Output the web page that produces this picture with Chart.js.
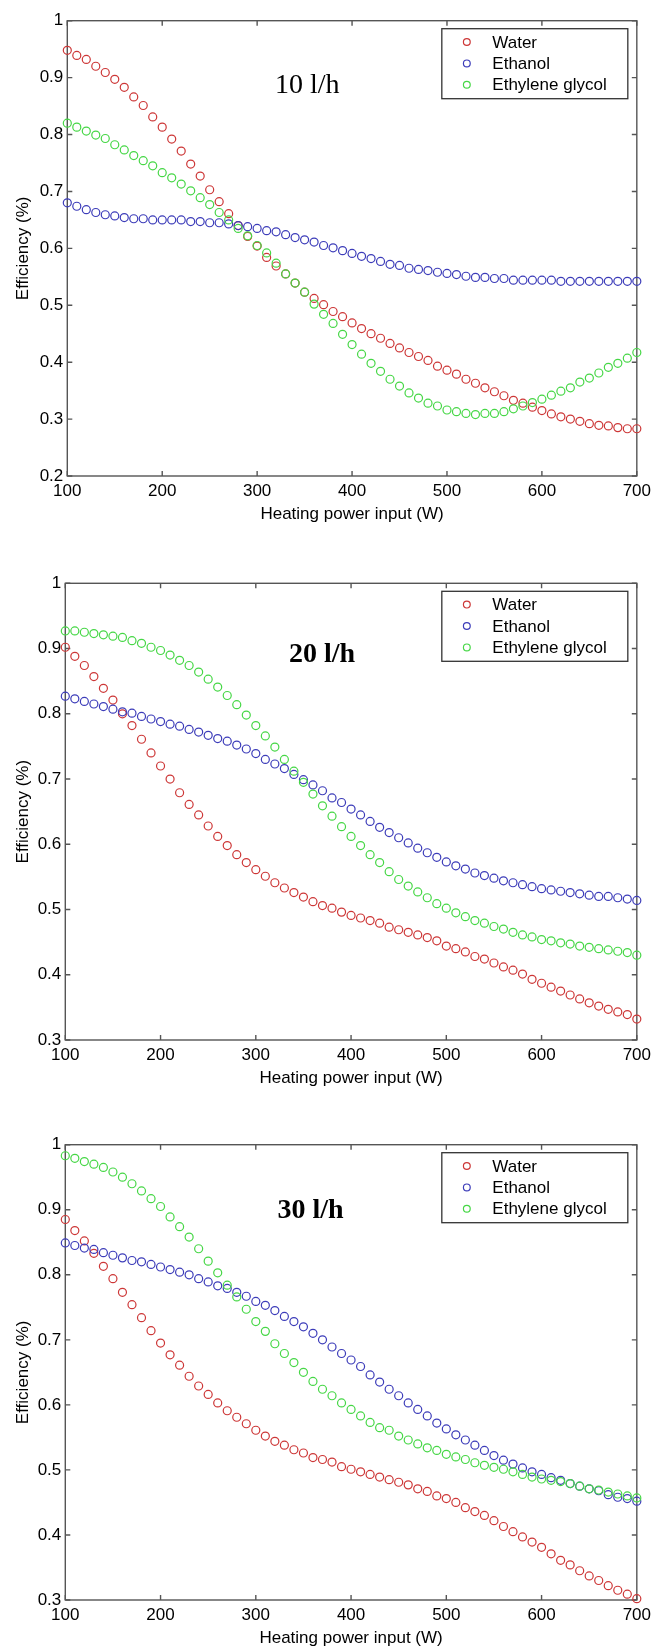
<!DOCTYPE html>
<html>
<head>
<meta charset="utf-8">
<script src="https://cdn.jsdelivr.net/npm/chart.js@4"></script>
<style>
  html, body { margin: 0; padding: 0; background: #fff; overflow: hidden; }
  .box { position: absolute; left: 0; width: 656px; }
</style>
</head>
<body>
<div class="box" style="top:0;height:540px"><canvas id="c1"></canvas></div>
<div class="box" style="top:540px;height:560px"><canvas id="c2"></canvas></div>
<div class="box" style="top:1100px;height:549px"><canvas id="c3"></canvas></div>
<script>
// heating power input (W)
const power = [100, 110, 120, 130, 140, 150, 160, 170, 180, 190,
  200, 210, 220, 230, 240, 250, 260, 270, 280, 290,
  300, 310, 320, 330, 340, 350, 360, 370, 380, 390,
  400, 410, 420, 430, 440, 450, 460, 470, 480, 490,
  500, 510, 520, 530, 540, 550, 560, 570, 580, 590,
  600, 610, 620, 630, 640, 650, 660, 670, 680, 690, 700];

const seriesNames = ['Water', 'Ethanol', 'Ethylene glycol'];
const flowLabels = ['10 l/h', '20 l/h', '30 l/h'];
const yMins = [0.2, 0.3, 0.3];

// 10 l/h
const water10 = [0.948, 0.939, 0.932, 0.920, 0.909, 0.897, 0.883, 0.866, 0.851, 0.831,
  0.813, 0.792, 0.771, 0.748, 0.727, 0.703, 0.682, 0.661, 0.640, 0.621,
  0.604, 0.584, 0.569, 0.555, 0.539, 0.523, 0.512, 0.501, 0.489, 0.480,
  0.469, 0.459, 0.450, 0.442, 0.433, 0.425, 0.417, 0.410, 0.403, 0.393,
  0.386, 0.379, 0.370, 0.363, 0.355, 0.348, 0.341, 0.333, 0.328, 0.321,
  0.315, 0.309, 0.304, 0.300, 0.296, 0.292, 0.289, 0.288, 0.285, 0.283, 0.283];
const ethanol10 = [0.680, 0.674, 0.668, 0.663, 0.659, 0.657, 0.654, 0.652, 0.652, 0.650,
  0.650, 0.650, 0.650, 0.647, 0.647, 0.645, 0.645, 0.643, 0.640, 0.638,
  0.635, 0.631, 0.629, 0.624, 0.619, 0.615, 0.611, 0.605, 0.601, 0.596,
  0.591, 0.586, 0.582, 0.577, 0.572, 0.570, 0.565, 0.563, 0.561, 0.558,
  0.556, 0.554, 0.551, 0.549, 0.549, 0.547, 0.547, 0.544, 0.544, 0.544,
  0.544, 0.544, 0.542, 0.542, 0.542, 0.542, 0.542, 0.542, 0.542, 0.542, 0.542];
const glycol10 = [0.820, 0.813, 0.806, 0.799, 0.793, 0.782, 0.773, 0.763, 0.754, 0.745,
  0.733, 0.724, 0.713, 0.701, 0.689, 0.677, 0.663, 0.650, 0.635, 0.622,
  0.605, 0.592, 0.574, 0.555, 0.539, 0.523, 0.502, 0.484, 0.468, 0.449,
  0.431, 0.414, 0.398, 0.384, 0.370, 0.358, 0.346, 0.337, 0.328, 0.323,
  0.316, 0.313, 0.310, 0.308, 0.310, 0.310, 0.313, 0.318, 0.323, 0.329,
  0.335, 0.342, 0.349, 0.355, 0.365, 0.372, 0.381, 0.391, 0.398, 0.407, 0.417];

// 20 l/h
const water20 = [0.902, 0.888, 0.874, 0.857, 0.839, 0.821, 0.800, 0.782, 0.761, 0.740,
  0.720, 0.700, 0.679, 0.661, 0.645, 0.628, 0.612, 0.598, 0.584, 0.572,
  0.561, 0.551, 0.541, 0.533, 0.526, 0.519, 0.512, 0.506, 0.502, 0.496,
  0.491, 0.487, 0.483, 0.479, 0.473, 0.469, 0.465, 0.461, 0.457, 0.452,
  0.444, 0.440, 0.435, 0.428, 0.424, 0.418, 0.412, 0.407, 0.401, 0.393,
  0.387, 0.381, 0.375, 0.369, 0.363, 0.357, 0.352, 0.347, 0.343, 0.339, 0.332];
const ethanol20 = [0.827, 0.823, 0.819, 0.815, 0.811, 0.807, 0.803, 0.801, 0.796, 0.792,
  0.788, 0.784, 0.781, 0.776, 0.772, 0.767, 0.762, 0.758, 0.752, 0.746,
  0.739, 0.730, 0.723, 0.716, 0.707, 0.699, 0.691, 0.682, 0.671, 0.664,
  0.654, 0.645, 0.635, 0.626, 0.618, 0.610, 0.602, 0.594, 0.587, 0.580,
  0.573, 0.567, 0.562, 0.556, 0.552, 0.548, 0.544, 0.541, 0.538, 0.535,
  0.532, 0.530, 0.528, 0.526, 0.524, 0.522, 0.520, 0.520, 0.518, 0.516, 0.514];
const glycol20 = [0.927, 0.927, 0.925, 0.923, 0.921, 0.919, 0.917, 0.912, 0.908, 0.902,
  0.897, 0.890, 0.882, 0.874, 0.864, 0.853, 0.841, 0.828, 0.814, 0.798,
  0.782, 0.766, 0.749, 0.730, 0.712, 0.695, 0.677, 0.659, 0.643, 0.627,
  0.612, 0.598, 0.584, 0.572, 0.558, 0.546, 0.536, 0.527, 0.518, 0.509,
  0.502, 0.495, 0.489, 0.483, 0.479, 0.474, 0.470, 0.465, 0.461, 0.458,
  0.454, 0.452, 0.449, 0.447, 0.444, 0.442, 0.440, 0.438, 0.436, 0.434, 0.430];

// 30 l/h
const water30 = [0.885, 0.868, 0.852, 0.833, 0.813, 0.794, 0.773, 0.754, 0.734, 0.714,
  0.695, 0.677, 0.661, 0.644, 0.629, 0.616, 0.603, 0.591, 0.581, 0.571,
  0.561, 0.552, 0.544, 0.538, 0.531, 0.526, 0.519, 0.516, 0.512, 0.505,
  0.501, 0.497, 0.493, 0.489, 0.485, 0.481, 0.477, 0.471, 0.467, 0.460,
  0.456, 0.450, 0.442, 0.436, 0.430, 0.422, 0.413, 0.405, 0.397, 0.389,
  0.381, 0.371, 0.361, 0.354, 0.345, 0.337, 0.330, 0.322, 0.315, 0.309, 0.302];
const ethanol30 = [0.849, 0.845, 0.841, 0.839, 0.834, 0.830, 0.826, 0.822, 0.820, 0.816,
  0.812, 0.808, 0.804, 0.800, 0.794, 0.789, 0.783, 0.779, 0.773, 0.767,
  0.759, 0.753, 0.745, 0.736, 0.728, 0.720, 0.710, 0.700, 0.689, 0.679,
  0.669, 0.659, 0.646, 0.635, 0.624, 0.614, 0.603, 0.593, 0.583, 0.572,
  0.563, 0.554, 0.546, 0.538, 0.530, 0.522, 0.515, 0.509, 0.503, 0.497,
  0.493, 0.488, 0.484, 0.479, 0.475, 0.471, 0.468, 0.462, 0.458, 0.456, 0.452];
const glycol30 = [0.983, 0.979, 0.974, 0.970, 0.965, 0.958, 0.950, 0.940, 0.929, 0.917,
  0.905, 0.889, 0.874, 0.858, 0.840, 0.821, 0.803, 0.784, 0.766, 0.747,
  0.728, 0.713, 0.694, 0.679, 0.665, 0.650, 0.636, 0.624, 0.614, 0.603,
  0.593, 0.583, 0.573, 0.565, 0.561, 0.552, 0.546, 0.540, 0.534, 0.530,
  0.524, 0.520, 0.516, 0.511, 0.507, 0.504, 0.501, 0.497, 0.493, 0.489,
  0.486, 0.484, 0.482, 0.479, 0.475, 0.471, 0.469, 0.466, 0.463, 0.460, 0.457];

const colors = ['rgb(205,55,55)', 'rgb(60,60,185)', 'rgb(70,215,70)'];

// layout of each panel (pixels)
const panels = [
  { id: 'c1', values: [water10, ethanol10, glycol10], padTop: 20.7, padBottom: 15.8, padRight: 16.7, axisW: 67.3, bold: false, labelDX: 240, labelDY: 72.6 },
  { id: 'c2', values: [water20, ethanol20, glycol20], padTop: 43.3, padBottom: 11.8, padRight: 15.3, axisW: 65.3, bold: true, labelDX: 256.7, labelDY: 78.4 },
  { id: 'c3', values: [water30, ethanol30, glycol30], padTop: 44.7, padBottom: 0.8, padRight: 15.3, axisW: 65.3, bold: true, labelDX: 245.2, labelDY: 73.6 }
];

Chart.defaults.color = '#000';
Chart.defaults.font.family = '"Liberation Sans", Arial, sans-serif';
Chart.defaults.font.size = 17;

const frameColor = '#555';

const matlabBox = {
  id: 'matlabBox',
  beforeDatasetsDraw(chart) {
    const { ctx, chartArea: a, scales: { x, y } } = chart;
    ctx.save();
    ctx.strokeStyle = frameColor;
    ctx.lineWidth = 1.4;
    ctx.strokeRect(a.left, a.top, a.right - a.left, a.bottom - a.top);
    ctx.beginPath();
    x.ticks.forEach(t => {
      const px = x.getPixelForValue(t.value);
      ctx.moveTo(px, a.bottom); ctx.lineTo(px, a.bottom - 5);
      ctx.moveTo(px, a.top); ctx.lineTo(px, a.top + 5);
    });
    y.ticks.forEach(t => {
      const py = y.getPixelForValue(t.value);
      ctx.moveTo(a.left, py); ctx.lineTo(a.left + 5, py);
      ctx.moveTo(a.right, py); ctx.lineTo(a.right - 5, py);
    });
    ctx.stroke();
    ctx.restore();
  },
  afterDatasetsDraw(chart, args, opts) {
    const { ctx, chartArea: a } = chart;
    ctx.save();
    // flow rate label
    ctx.fillStyle = '#000';
    ctx.font = (opts.bold ? 'bold ' : '') + '28px "Liberation Serif", "Times New Roman", serif';
    ctx.textAlign = 'center';
    ctx.textBaseline = 'alphabetic';
    ctx.fillText(opts.text, a.left + opts.dx, a.top + opts.dy);
    // legend box
    const bx = a.right - 195, by = a.top + 8, bw = 186, bh = 70;
    ctx.fillStyle = '#fff';
    ctx.fillRect(bx, by, bw, bh);
    ctx.strokeStyle = '#333';
    ctx.lineWidth = 1.3;
    ctx.strokeRect(bx, by, bw, bh);
    ctx.font = '17px "Liberation Sans", Arial, sans-serif';
    ctx.textAlign = 'left';
    ctx.textBaseline = 'middle';
    seriesNames.forEach((name, i) => {
      const ry = by + 13.3 + i * 21.4;
      ctx.beginPath();
      ctx.arc(bx + 25, ry, 3.4, 0, Math.PI * 2);
      ctx.strokeStyle = colors[i];
      ctx.lineWidth = 1.2;
      ctx.stroke();
      ctx.fillStyle = '#000';
      ctx.fillText(name, bx + 50.5, ry + 1);
    });
    ctx.restore();
  }
};

panels.forEach((p, k) => {
  new Chart(document.getElementById(p.id), {
    type: 'scatter',
    data: {
      datasets: p.values.map((vals, i) => ({
        label: seriesNames[i],
        data: vals.map((v, j) => ({ x: power[j], y: v })),
        pointStyle: 'circle',
        pointRadius: 4,
        pointHoverRadius: 4,
        borderWidth: 1.2,
        borderColor: colors[i],
        backgroundColor: 'rgba(0,0,0,0)',
        order: 3 - i,
        clip: false
      }))
    },
    options: {
      responsive: true,
      maintainAspectRatio: false,
      animation: false,
      layout: { padding: { top: p.padTop, bottom: p.padBottom, left: 0, right: p.padRight } },
      plugins: {
        legend: { display: false },
        tooltip: { enabled: false },
        matlabBox: { text: flowLabels[k], bold: p.bold, dx: p.labelDX, dy: p.labelDY }
      },
      scales: {
        x: {
          type: 'linear',
          min: 100,
          max: 700,
          ticks: { stepSize: 100, padding: 5, maxRotation: 0 },
          grid: { display: false, drawTicks: false },
          border: { display: false },
          title: { display: true, text: 'Heating power input (W)', padding: { top: 0, bottom: 0 } },
          afterFit(scale) { scale.height = 48.2; }
        },
        y: {
          min: yMins[k],
          max: 1,
          ticks: {
            stepSize: 0.1,
            padding: 4,
            callback: v => String(parseFloat(v.toFixed(2)))
          },
          grid: { display: false, drawTicks: false },
          border: { display: false },
          title: { display: true, text: 'Efficiency (%)', padding: { top: 13, bottom: 0 } },
          afterFit(scale) { scale.width = p.axisW; }
        }
      }
    },
    plugins: [matlabBox]
  });
});
</script>
</body>
</html>
